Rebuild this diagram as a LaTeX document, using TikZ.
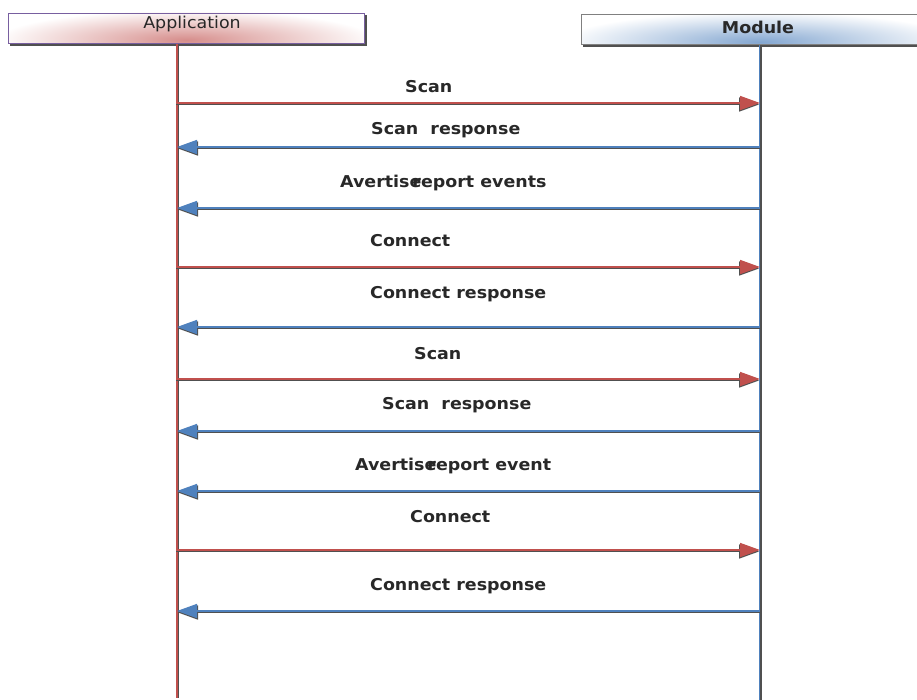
\documentclass[tikz,border=0pt]{standalone}
\usepackage{fontspec}
\setmainfont{DejaVu Sans}[FakeStretch=1.07]
\usetikzlibrary{arrows.meta}
\definecolor{reqred}{RGB}{192,80,77}
\definecolor{resblue}{RGB}{79,129,189}
\definecolor{shad}{RGB}{80,80,80}
\definecolor{txt}{RGB}{40,40,40}
\definecolor{appborder}{RGB}{120,95,160}
\begin{document}
\begin{tikzpicture}[x=1pt,y=-1pt,
  lbl/.style={anchor=west,inner sep=0pt,text=txt,font=\fontsize{16.3}{19}\selectfont\bfseries},
  headlbl/.style={inner sep=0pt,text=txt,font=\fontsize{16.3}{19}\selectfont},
  req/.style={draw=reqred,line width=1.6pt,-{Triangle[length=20pt,width=14pt,fill=reqred]}},
  res/.style={draw=resblue,line width=1.6pt,-{Triangle[length=20pt,width=14pt,fill=resblue]}},
  reqsh/.style={draw=shad,line width=1.6pt,-{Triangle[length=20pt,width=14pt,fill=shad]}},
]
\useasboundingbox (0,0) rectangle (917,700);
\clip (0,0) rectangle (917,700);
\fill[white] (0,0) rectangle (917,700);

% header boxes
\fill[shad] (10,15) rectangle (367,46);
\fill[white] (8,13) rectangle (364,43);
\begin{scope}
  \clip (8,13) rectangle (364,43);
  \shade[inner color=reqred!65, outer color=white] (186,40) ellipse (190 and 30);
\end{scope}
\draw[appborder,line width=0.9pt] (8,13) rectangle (364,43);
\node[headlbl] (app) at (192,24) {Application};

\fill[shad] (583,16) rectangle (930,47);
\fill[white] (581,14) rectangle (930,44);
\begin{scope}
  \clip (581,14) rectangle (930,44);
  \shade[inner color=resblue!70, outer color=white] (760,42) ellipse (200 and 30);
\end{scope}
\draw[gray,line width=0.9pt] (581,14) rectangle (930,44);
\node[headlbl,font=\fontsize{16.3}{19}\selectfont\bfseries] (mod) at (758,27) {Module};

% lifelines
\coordinate (atop) at (177,44);
\coordinate (abot) at (177,698);
\coordinate (mtop) at (760,45);
\coordinate (mbot) at (760,700);
\draw[shad,line width=1.2pt] ([xshift=1.3pt]atop) -- ([xshift=1.3pt]abot);
\draw[reqred,line width=1.2pt] (atop) -- (abot);
\draw[shad,line width=1.4pt] ([xshift=0.8pt]mtop) -- ([xshift=0.8pt]mbot);
\draw[resblue,line width=0.8pt] ([xshift=-0.6pt]mtop) -- ([xshift=-0.6pt]mbot);

% message anchor coordinates
\foreach \n/\y in {1/103,2/147,3/208,4/267,5/327,6/379,7/431,8/491,9/550,10/611}{
  \coordinate (a\n) at (177,\y);
  \coordinate (m\n) at (760,\y);
}

% requests (application -> module)
\foreach \n in {1,4,6,9}{
  \draw[reqsh] ([yshift=-1.5pt,xshift=-1pt]a\n) -- ([yshift=-1.5pt,xshift=-1pt]m\n);
  \draw[req] (a\n) -- (m\n);
}
% responses (module -> application)
\foreach \n in {2,3,5,7,8,10}{
  \draw[reqsh] ([yshift=-1.5pt,xshift=1pt]m\n) -- ([yshift=-1.5pt,xshift=1pt]a\n);
  \draw[res] (m\n) -- (a\n);
}

% labels
\node[lbl] (l1) at (405,87) {Scan};
\node[lbl] (l2) at (371,130) {Scan~ response};
\node[lbl] (l3) at (340,183) {Avertise\kern-0.55em report events};
\node[lbl] (l4) at (370,241) {Connect};
\node[lbl] (l5) at (370,294) {Connect response};
\node[lbl] (l6) at (414,354) {Scan};
\node[lbl] (l7) at (382,405) {Scan~ response};
\node[lbl] (l8) at (355,466) {Avertise\kern-0.55em report event};
\node[lbl] (l9) at (410,517) {Connect};
\node[lbl] (l10) at (370,586) {Connect response};
\end{tikzpicture}
\end{document}
